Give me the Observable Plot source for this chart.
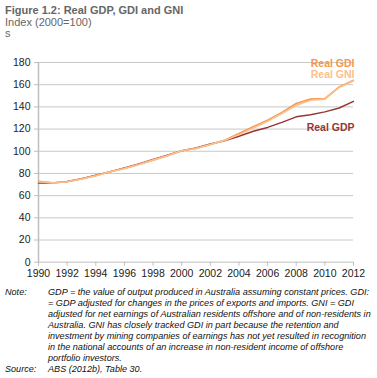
<!DOCTYPE html>
<html>
<head>
<meta charset="utf-8">
<script src="https://cdn.jsdelivr.net/npm/d3@7"></script>
<script src="https://cdn.jsdelivr.net/npm/@observablehq/plot@0.6"></script>
<style>
  body { margin: 0; background: #fff; font-family: "Liberation Sans", Arial, sans-serif; width: 377px; height: 378px; overflow: hidden; position: relative; }
  #hdr { position: absolute; left: 5px; top: 5px; color: #666; font-size: 11px; line-height: 11.5px; }
  #hdr .t { font-weight: bold; }
  #chart { position: absolute; left: 0; top: 48px; }
  #notes { position: absolute; left: 5px; top: 287px; font-size: 9.1px; line-height: 11px; font-style: italic; color: #111; }
  #notes .row { display: flex; white-space: nowrap; }
  #notes .lab { width: 43px; flex: none; }
</style>
</head>
<body>
<div id="hdr">
  <div class="t">Figure 1.2: Real GDP, GDI and GNI</div>
  <div>Index (2000=100)</div>
  <div>s</div>
</div>
<div id="chart"></div>
<div id="notes"></div>
<script>
const years = [1990,1991,1992,1993,1994,1995,1996,1997,1998,1999,2000,2001,2002,2003,2004,2005,2006,2007,2008,2009,2010,2011,2012];
const gdp = [71.5,71.5,72.8,75.3,78.5,81.5,85,88.5,92.5,96.5,100.5,103,106.5,109.5,113.5,118,121.5,126,131,133,135.5,139,145];
const gdi = [73,71.5,72.5,75,78,81.5,84.5,88,92,96,100.5,102.5,106,110,116,122,128,135,143,147,147.5,158,164];
const gni = [72.5,71.5,72.5,75,78,81.5,84.5,88,92,96,100.5,102.5,106,109.8,115,121,127,134,141.5,146,147,157.5,163.5];
const seriesNames = ["Real GDP","Real GDI","Real GNI"];
const seriesColors = ["#953735","#F79646","#FAC08F"];
const xTicks = [1990,1992,1994,1996,1998,2000,2002,2004,2006,2008,2010,2012];
const yTicks = [0,20,40,60,80,100,120,140,160,180];
const noteLines = [
  "GDP = the value of output produced in Australia assuming constant prices. GDI:",
  "= GDP adjusted for changes in the prices of exports and imports. GNI = GDI",
  "adjusted for net earnings of Australian residents offshore and of non-residents in",
  "Australia. GNI has closely tracked GDI in part because the retention and",
  "investment by mining companies of earnings has not yet resulted in recognition",
  "in the national accounts of an increase in non-resident income of offshore",
  "portfolio investors."
];
const sourceText = "ABS (2012b), Table 30.";

const rows = [];
const vals = [gdp, gdi, gni];
seriesNames.forEach((s, i) => years.forEach((y, j) => rows.push({series: s, year: y, value: vals[i][j]})));
const lastRows = seriesNames.map((s, i) => ({series: s, year: years[years.length-1], value: vals[i][vals[i].length-1]}));
const labelDy = {"Real GDP": 26, "Real GDI": -17, "Real GNI": -6};

const chart = Plot.plot({
  width: 377,
  height: 234,
  marginTop: 14,
  marginBottom: 20.3,
  marginLeft: 38,
  marginRight: 24,
  style: {fontFamily: "'Liberation Sans', Arial, sans-serif", fontSize: "10.5px", color: "#222", background: "transparent"},
  x: {domain: [1990, 2012], label: null},
  y: {domain: [0, 180], label: null},
  color: {domain: seriesNames, range: seriesColors},
  marks: [
    Plot.gridY(yTicks.filter(d => d > 0), {stroke: "#c8c8c8", strokeOpacity: 1, strokeWidth: 1}),
    Plot.axisY(yTicks, {tickSize: 4, tickPadding: 4, stroke: "#bfbfbf", fill: "#222", label: null}),
    Plot.axisX(xTicks, {tickSize: 4, tickPadding: 3, stroke: "#bfbfbf", fill: "#222", tickFormat: d => String(d), label: null}),
    Plot.ruleX([1990], {stroke: "#bfbfbf", strokeWidth: 1.5}),
    Plot.ruleY([0], {stroke: "#bfbfbf", strokeWidth: 1}),
    Plot.lineY(rows.filter(d => d.series === "Real GDP"), {x: "year", y: "value", stroke: "series", strokeWidth: 1.5}),
    Plot.lineY(rows.filter(d => d.series === "Real GDI"), {x: "year", y: "value", stroke: "series", strokeWidth: 1.6}),
    Plot.lineY(rows.filter(d => d.series === "Real GNI"), {x: "year", y: "value", stroke: "series", strokeWidth: 1.6}),
    ...lastRows.map(r => Plot.text([r], {x: "year", y: "value", text: "series", fill: "series", textAnchor: "end", dx: 1, dy: labelDy[r.series], fontWeight: "bold", fontSize: 10.5}))
  ]
});
document.getElementById("chart").appendChild(chart);

const notes = document.getElementById("notes");
noteLines.forEach((t, i) => {
  const r = document.createElement("div");
  r.className = "row";
  r.innerHTML = `<span class="lab">${i === 0 ? "Note:" : ""}</span><span></span>`;
  r.lastChild.textContent = t;
  notes.appendChild(r);
});
const sr = document.createElement("div");
sr.className = "row";
sr.innerHTML = `<span class="lab">Source:</span><span></span>`;
sr.lastChild.textContent = sourceText;
notes.appendChild(sr);
</script>
</body>
</html>
